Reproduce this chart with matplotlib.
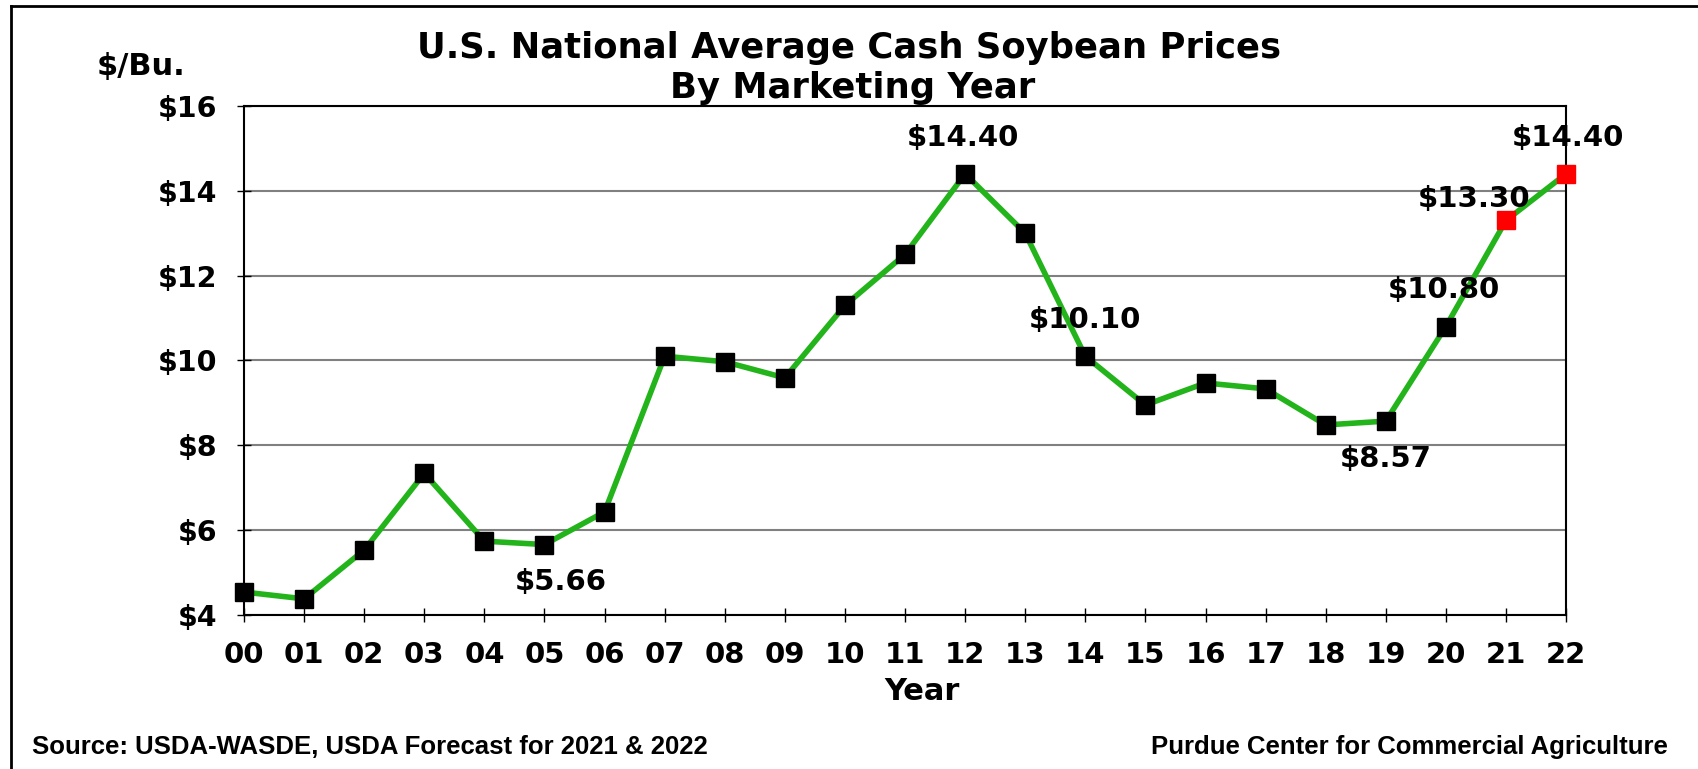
# -*- coding: utf-8 -*-
import numpy as np
import matplotlib
matplotlib.use("Agg")
import matplotlib.pyplot as plt
from matplotlib.lines import Line2D

years = ["00", "01", "02", "03", "04", "05", "06", "07", "08", "09", "10", "11",
         "12", "13", "14", "15", "16", "17", "18", "19", "20", "21", "22"]
prices = [4.54, 4.38, 5.53, 7.34, 5.74, 5.66, 6.43, 10.10, 9.97, 9.59, 11.30, 12.50,
          14.40, 13.00, 10.10, 8.95, 9.47, 9.33, 8.48, 8.57, 10.80, 13.30, 14.40]
forecast = ["21", "22"]
labeled = ["05", "12", "14", "19", "20", "21", "22"]
y_ticks = [4, 6, 8, 10, 12, 14, 16]

# label offsets in pixels (dx, dy)
offsets = {"05": (16, -37), "12": (-2, 36), "14": (0, 36), "19": (0, -38),
           "20": (-2, 37), "21": (-32, 21), "22": (2, 36)}

plt.rcParams['font.family'] = ['DejaVu Sans']
plt.rcParams['font.weight'] = 'bold'

fig = plt.figure(figsize=(16.98, 7.69), dpi=100)
ax = fig.add_axes([0.1437, 0.2003, 0.9223 - 0.1437, 0.8622 - 0.2003])

x = np.arange(len(years))
ax.plot(x, prices, color="#22b41a", lw=4, zorder=3, clip_on=False)
for i, yr in enumerate(years):
    c = "#ff0000" if yr in forecast else "black"
    ax.plot(x[i], prices[i], marker="s", ms=13.5, color=c, mec=c, zorder=4, clip_on=False)

for yr in labeled:
    i = years.index(yr)
    ax.annotate("${:.2f}".format(prices[i]), (x[i], prices[i]),
                xytext=offsets[yr], textcoords="offset pixels",
                ha="center", va="center", fontsize=21, fontweight="bold", zorder=5)

ax.set_xlim(0, len(years) - 1)
ax.set_ylim(4, 16)
ax.set_xticks(x)
ax.set_xticklabels(years)
ax.set_yticks(y_ticks)
ax.set_yticklabels(["${}".format(v) for v in y_ticks])
ax.yaxis.grid(True, color="#808080", lw=1.5)
ax.set_axisbelow(True)
ax.tick_params(direction="inout", length=10, width=1, labelsize=20.5, pad=14)
ax.tick_params(axis="x", labelsize=21)
for lab in ax.get_xticklabels() + ax.get_yticklabels():
    lab.set_fontweight("bold")
for s in ax.spines.values():
    s.set_linewidth(1.5)

ax.set_xlabel("Year", fontsize=22, fontweight="bold", labelpad=2)
ax.xaxis.set_label_coords(0.513, -0.122)
fig.text(0.5, 0.938, "U.S. National Average Cash Soybean Prices", ha="center", va="center",
         fontsize=25.5, fontweight="bold")
fig.text(0.502, 0.886, "By Marketing Year", ha="center", va="center",
         fontsize=25.5, fontweight="bold")
fig.text(0.083, 0.913, "$/Bu.", ha="center", va="center", fontsize=22, fontweight="bold")

fig.text(0.019, 0.028, "Source: USDA-WASDE, USDA Forecast for 2021 & 2022",
         ha="left", va="center", fontsize=18.5, fontweight="bold",
         family=["Liberation Sans"])
fig.text(0.982, 0.028, "Purdue Center for Commercial Agriculture",
         ha="right", va="center", fontsize=18.5, fontweight="bold",
         family=["Liberation Sans"])

# outer frame (left and top edges)
fig.add_artist(Line2D([11 / 1698, 11 / 1698], [0, 1 - 6 / 769], color="black", lw=2))
fig.add_artist(Line2D([11 / 1698, 1], [1 - 6 / 769, 1 - 6 / 769], color="black", lw=2))

fig.savefig("out.png", dpi=100)
